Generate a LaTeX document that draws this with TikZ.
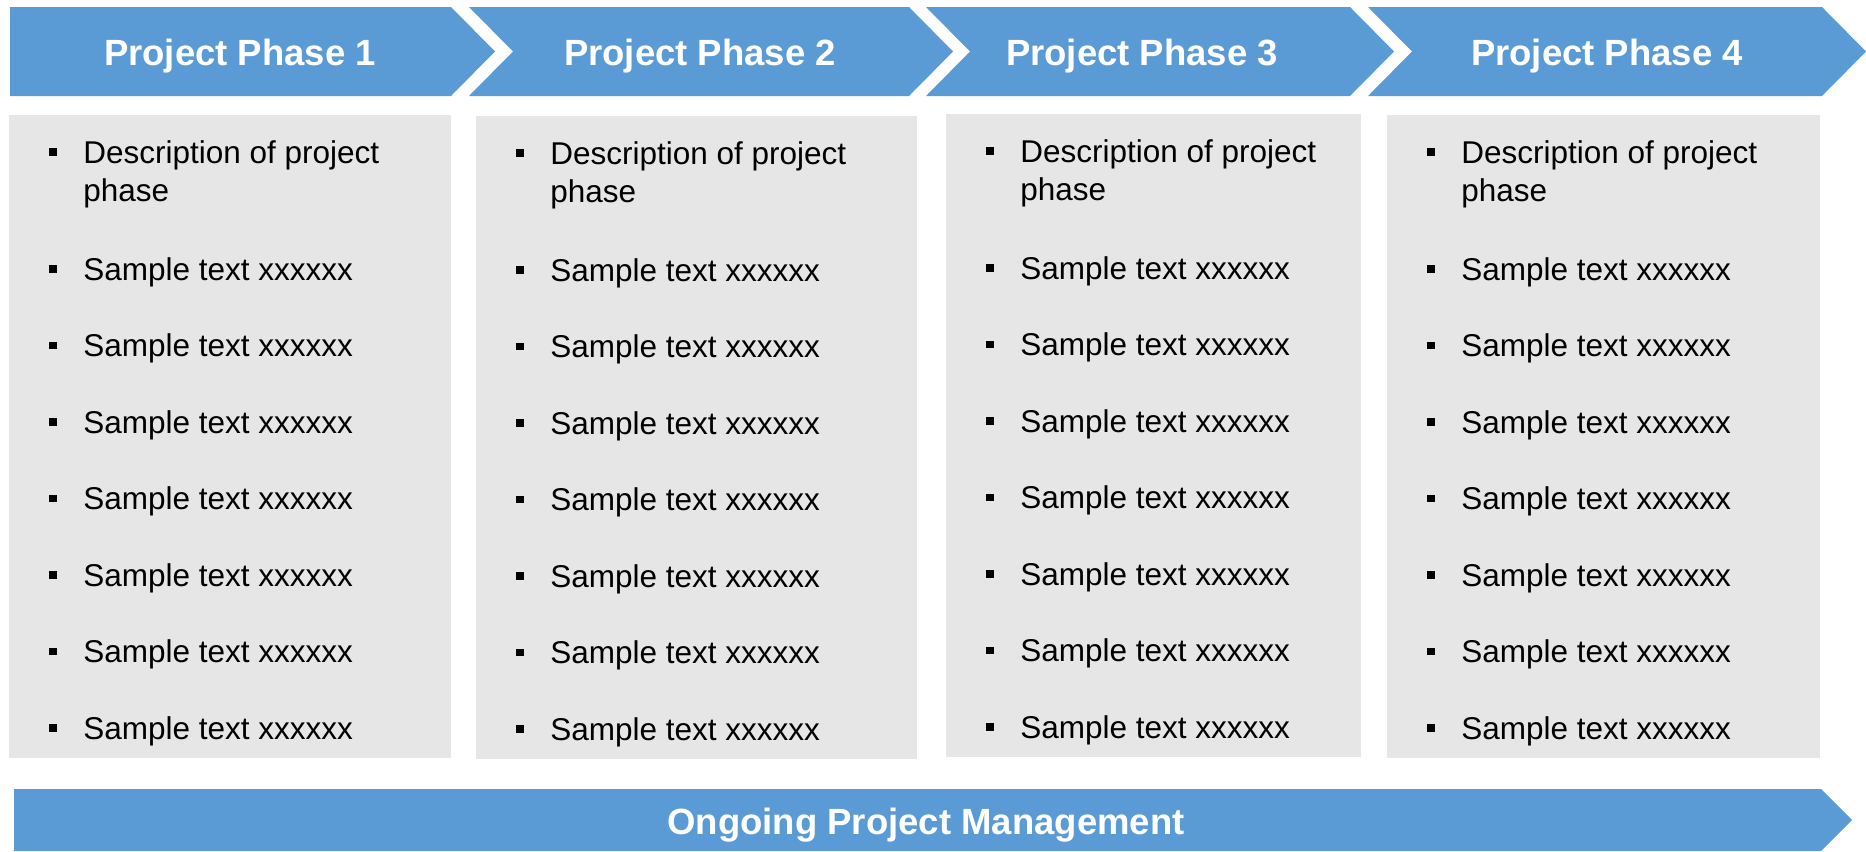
\documentclass[tikz,border=0pt]{standalone}
\usepackage{fontspec}
\setmainfont{Liberation Sans}
\usepackage{tikz}
\usetikzlibrary{positioning}

\definecolor{phaseblue}{HTML}{5B9BD5}
\definecolor{panelgray}{HTML}{E6E6E6}

\begin{document}
\begin{tikzpicture}[x=0.5pt,y=-0.5pt,
                    phase text/.style={text=white,font=\fontsize{18.25}{20}\selectfont\bfseries},
                    panel box/.style={fill=panelgray,anchor=north west,inner sep=0pt,outer sep=0pt,minimum height=321.5pt},
                    item text/.style={anchor=base west,align=left,inner sep=0pt,font=\fontsize{15.75}{19.25}\selectfont},
                    bullet mark/.style={fill=black,inner sep=0pt,minimum size=3.75pt}]

  \useasboundingbox (0,0) rectangle (1866,851);

  % phase chevrons
  \fill[phaseblue] (10,7) -- (451,7) -- (495,51.5) -- (451,96) -- (10,96) -- cycle;
  \fill[phaseblue] (469,7) -- (909,7) -- (953,51.5) -- (909,96) -- (469,96) -- (513,51.5) -- cycle;
  \fill[phaseblue] (926,7) -- (1350,7) -- (1394,51.5) -- (1350,96) -- (926,96) -- (970,51.5) -- cycle;
  \fill[phaseblue] (1368,7) -- (1822,7) -- (1866,51.5) -- (1822,96) -- (1368,96) -- (1412,51.5) -- cycle;

  \node[phase text] (phase1) at (240,56) {Project Phase 1};
  \node[phase text] (phase2) at (700,56) {Project Phase 2};
  \node[phase text] (phase3) at (1142,56) {Project Phase 3};
  \node[phase text] (phase4) at (1607,56) {Project Phase 4};

  % panels with bullet lists
  \foreach \p/\x/\y/\w in {1/9/115/442, 2/476/116/441, 3/946/114/415, 4/1387/115/433} {
    \node[panel box, minimum width=\w*0.5pt] (panel\p) at (\x,\y) {};
    \node[bullet mark] (mark\p0) at ([shift={(44,37)}]panel\p.north west) {};
    \node[item text] (item\p0) at ([shift={(74,86.5)}]panel\p.north west) {Description of project\\phase};
    \foreach \i in {1,...,7} {
      \node[bullet mark] (mark\p\i) at ([shift={(44,{154+76.5*(\i-1)})}]panel\p.north west) {};
      \node[item text] (item\p\i) at ([shift={(74,{165+76.5*(\i-1)})}]panel\p.north west) {Sample text xxxxxx};
    }
  }

  % ongoing bar
  \fill[phaseblue] (14,789) -- (1821,789) -- (1852,820) -- (1821,851) -- (14,851) -- cycle;
  \node[phase text] (ongoing) at (926,825) {Ongoing Project Management};

\end{tikzpicture}
\end{document}
